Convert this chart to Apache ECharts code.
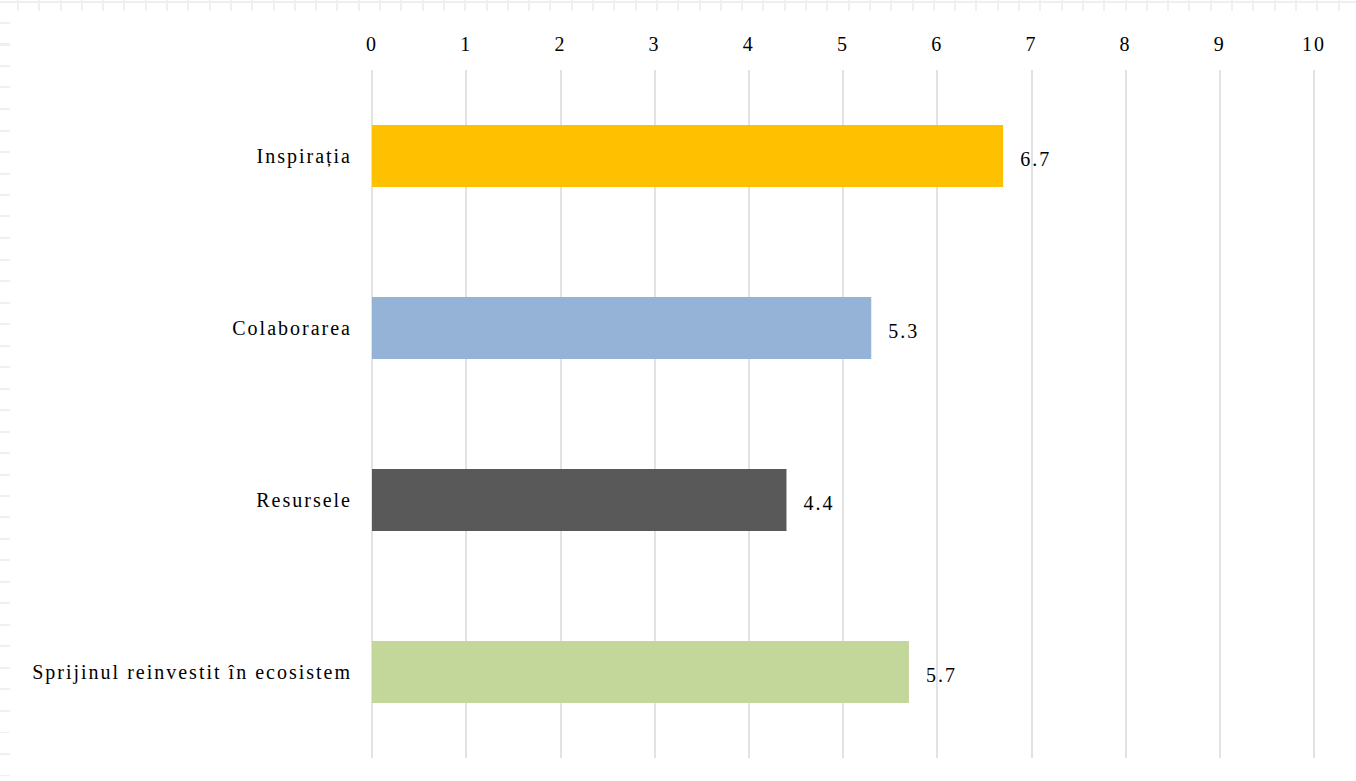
<!DOCTYPE html>
<html>
<head>
<meta charset="utf-8">
<script src="https://cdn.jsdelivr.net/npm/echarts@6/dist/echarts.min.js"></script>
<style>
  html, body { margin: 0; padding: 0; background: #ffffff; }
  #wrap { position: relative; width: 1356px; height: 781px; overflow: hidden; background: #ffffff; }
  /* faint sheet gridlines along the top and left edges */
  #topEdge {
    position: absolute; left: 0; top: 0; width: 1356px; height: 11px;
    background:
      linear-gradient(#efefef, #efefef) 0 1px / 100% 2px no-repeat,
      repeating-linear-gradient(90deg, transparent 0 17px, #f0f0f0 17px 19px, transparent 19px 21.3px);
  }
  #leftEdge {
    position: absolute; left: 0; top: 11px; width: 10px; height: 770px;
    background: repeating-linear-gradient(180deg, transparent 0 11px, #f0f0f0 11px 13px, transparent 13px 21.5px);
  }
  #chart { position: absolute; left: 0; top: 0; width: 1356px; height: 781px; }
  /* airy tracking for all chart text */
  #chart svg text { letter-spacing: 2px; }
</style>
</head>
<body>
<div id="wrap">
  <div id="topEdge"></div>
  <div id="leftEdge"></div>
  <div id="chart"></div>
</div>
<script>
  const categories = ['Inspirația', 'Colaborarea', 'Resursele', 'Sprijinul reinvestit în ecosistem'];
  const values = [6.7, 5.3, 4.4, 5.7];
  const barColors = ['#FFC000', '#95B3D7', '#595959', '#C4D79B'];
  const axisMin = 0;
  const axisMax = 10;
  const axisStep = 1;

  const fontFamily = '"Liberation Serif", "DejaVu Serif", serif';

  const chart = echarts.init(document.getElementById('chart'), null, { renderer: 'svg' });
  chart.setOption({
    backgroundColor: 'transparent',
    animation: false,
    grid: { left: 372, right: 42, top: 70, bottom: 23, containLabel: false },
    xAxis: {
      type: 'value',
      position: 'top',
      min: axisMin,
      max: axisMax,
      interval: axisStep,
      axisLine: { show: false },
      axisTick: { show: false },
      axisLabel: { color: '#000000', fontSize: 20, fontFamily: fontFamily, margin: 16 },
      splitLine: { show: true, lineStyle: { color: '#d9d9d9', width: 1.5 } }
    },
    yAxis: {
      type: 'category',
      data: categories,
      inverse: true,
      axisLine: { show: false },
      axisTick: { show: false },
      axisLabel: {
        color: '#000000', fontSize: 20, fontFamily: fontFamily,
        margin: 20, padding: [6, 0, 0, 0]
      }
    },
    series: [{
      type: 'bar',
      barWidth: '36%',
      data: values.map((v, i) => ({ value: v, itemStyle: { color: barColors[i] } })),
      label: {
        show: true,
        position: 'right',
        distance: 17,
        offset: [0, 3],
        color: '#000000',
        fontSize: 20,
        fontFamily: fontFamily,
        formatter: p => p.value.toFixed(1)
      }
    }]
  });
</script>
</body>
</html>
